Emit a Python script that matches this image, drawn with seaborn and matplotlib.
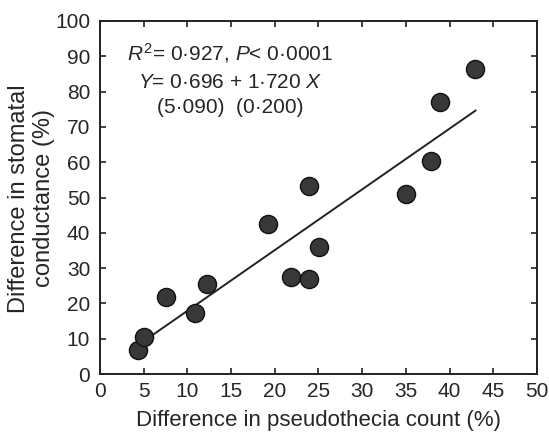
import pandas as pd
import matplotlib
matplotlib.use('Agg')
import matplotlib.pyplot as plt
import seaborn as sns

# values
pseudothecia = [4.4, 5.1, 7.6, 10.9, 12.2, 19.2, 21.9, 23.9, 23.9, 25.1, 35.0, 37.9, 38.9, 42.9]
stomatal = [6.8, 10.4, 21.9, 17.2, 25.4, 42.6, 27.5, 53.4, 26.9, 36.1, 51.1, 60.2, 77.1, 86.5]

# fitted line as stated on the chart
intercept = 0.696
slope = 1.720
fit_x = [5.0, 43.0]

x_ticks = [0, 5, 10, 15, 20, 25, 30, 35, 40, 45, 50]
y_ticks = [0, 10, 20, 30, 40, 50, 60, 70, 80, 90, 100]

df = pd.DataFrame({'x': pseudothecia, 'y': stomatal})
fit = pd.DataFrame({'x': fit_x, 'y': [intercept + slope * v for v in fit_x]})

sns.set_style('ticks')
plt.rcParams['font.family'] = ['Liberation Sans', 'DejaVu Sans']
plt.rcParams['mathtext.fontset'] = 'custom'
plt.rcParams['mathtext.rm'] = 'Liberation Sans'
plt.rcParams['mathtext.it'] = 'Liberation Sans:italic'

fig = plt.figure(figsize=(5.49, 4.36), dpi=100, facecolor='white')
ax = fig.add_axes([0.182, 0.142, 0.796, 0.810])

sns.lineplot(data=fit, x='x', y='y', ax=ax, color='#222222', linewidth=1.4)
sns.scatterplot(data=df, x='x', y='y', ax=ax, s=170, color='#383838',
                edgecolor='#111111', linewidth=1.0, zorder=3)

ax.set_xlim(0, 50)
ax.set_ylim(0, 100)
ax.set_xticks(x_ticks)
ax.set_yticks(y_ticks)
ax.tick_params(direction='in', length=4, width=1.2, top=True, right=True,
               labelsize=15, color='#222222')
ax.tick_params(axis='y', pad=7)
ax.tick_params(axis='x', pad=6)
for s in ax.spines.values():
    s.set_linewidth(1.4)
    s.set_color('#222222')

ax.set_xlabel('Difference in pseudothecia count (%)', fontsize=16, labelpad=6)
ax.set_ylabel('')
fig.text(31.5 / 549, 0.545, 'Difference in stomatal\nconductance (%)', fontsize=17,
         rotation=90, ha='center', va='center', multialignment='center',
         linespacing=1.15)

ax.text(14.9, 90.9, '$R^2$= 0·927, $P$< 0·0001', fontsize=15, ha='center', va='center')
ax.text(14.9, 82.7, '$Y$= 0·696 + 1·720 $X$', fontsize=15, ha='center', va='center')
ax.text(14.9, 75.4, '(5·090)  (0·200)', fontsize=15, ha='center', va='center')

plt.savefig('out.png', dpi=100)
